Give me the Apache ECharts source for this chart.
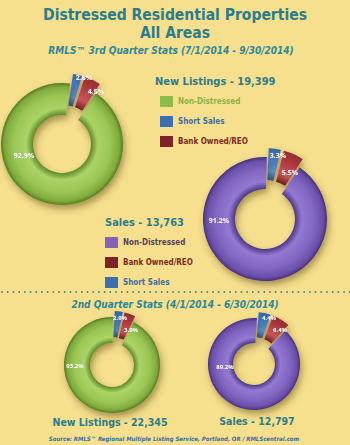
<!DOCTYPE html>
<html><head><meta charset="utf-8">
<script src="https://cdn.jsdelivr.net/npm/echarts@6/dist/echarts.min.js"></script>
<style>html,body{margin:0;padding:0;background:#f6e08e}#c{width:350px;height:445px}</style>
</head><body><div id="c"></div>
<script>
// ---- data ----
const sliceNames = ['Short Sales', 'Bank Owned/REO', 'Non-Distressed'];
const q3ListingsPct = [2.6, 4.5, 92.9];
const q3SalesPct = [3.3, 5.5, 91.2];
const q2ListingsPct = [2.9, 3.9, 93.2];
const q2SalesPct = [4.4, 6.4, 89.2];
const q3ListingsTotal = '19,399';
const q3SalesTotal = '13,763';
const q2ListingsTotal = '22,345';
const q2SalesTotal = '12,797';
const listingsLegendOrder = ['Non-Distressed', 'Short Sales', 'Bank Owned/REO'];
const salesLegendOrder = ['Non-Distressed', 'Bank Owned/REO', 'Short Sales'];
const mainTitle = 'Distressed Residential Properties';
const subTitle = 'All Areas';
const q3Title = 'RMLS\u2122 3rd Quarter Stats (7/1/2014 - 9/30/2014)';
const q2Title = '2nd Quarter Stats (4/1/2014 - 6/30/2014)';
const sourceText = 'Source: RMLS\u2122 Regional Multiple Listing Service, Portland, OR / RMLScentral.com';

// ---- styles ----
const TEAL = '#2b7c8c';
const NARROW = '"Liberation Sans Narrow","DejaVu Sans Condensed","Open Sans",sans-serif';
const palettes = {
  green: ['#5f8a2a', '#abd366', '#9ac755', '#80ab3c', '#557d22'],
  purple: ['#4e3784', '#9379d2', '#8266c2', '#6a4fa8', '#47307a'],
  blue: ['#2a5690', '#5b8fd0', '#3f74b8', '#30609e', '#254d84'],
  red: ['#6e1f24', '#c8555a', '#a8343c', '#8c2a30', '#651c20']
};
const legendColors = {
  listings: {'Non-Distressed': ['#8cbc4a', '#8ab445'], 'Short Sales': ['#3d6fb0', '#3f6ea5'], 'Bank Owned/REO': ['#7b2326', '#7a2a22']},
  sales: {'Non-Distressed': ['#8262bb', '#5a3f5a'], 'Short Sales': ['#3d6fb0', '#3f6ea5'], 'Bank Owned/REO': ['#7b2326', '#7a2a22']}
};

function grad(cx, cy, r0, r1, pal) {
  const f = r0 / r1;
  return {type: 'radial', x: cx, y: cy, r: r1, global: true, colorStops: [
    {offset: f, color: pal[0]},
    {offset: f + (1 - f) * 0.22, color: pal[1]},
    {offset: f + (1 - f) * 0.6, color: pal[2]},
    {offset: f + (1 - f) * 0.88, color: pal[3]},
    {offset: 1, color: pal[4]}
  ]};
}

// ring series (with exploded small slices) + a transparent twin that carries the labels
function pieSeries(values, geom, mainPal) {
  const [cx, cy, r0, r1, start, off, labelXY, fs] = geom;
  const pals = [palettes.blue, palettes.red, mainPal];
  const base = {
    type: 'pie', center: [cx, cy], radius: [r0, r1], startAngle: start, clockwise: true,
    avoidLabelOverlap: false, padAngle: 0.6, emphasis: {disabled: true}, silent: true,
    labelLine: {show: false}
  };
  const ring = Object.assign({}, base, {
    selectedMode: 'multiple', selectedOffset: off,
    itemStyle: {shadowBlur: 7, shadowOffsetX: 2, shadowOffsetY: 4, shadowColor: 'rgba(70,50,0,0.45)'},
    label: {show: false},
    data: values.map((v, i) => ({
      name: sliceNames[i], value: v, selected: i < 2,
      itemStyle: {color: grad(cx, cy, r0, i < 2 ? r1 + off : r1, pals[i])}
    }))
  });
  const labels = Object.assign({}, base, {
    selectedMode: false, z: 5,
    itemStyle: {color: 'rgba(0,0,0,0)'},
    label: {show: true, position: 'inside', color: '#ffffff', fontSize: fs, fontWeight: 'bold',
      fontFamily: '"Open Sans",sans-serif', textShadowColor: 'rgba(0,0,0,0.35)', textShadowBlur: 1,
      formatter: p => p.value.toFixed(1) + '%'},
    labelLayout: p => ({x: cx + labelXY[p.dataIndex][0], y: cy + labelXY[p.dataIndex][1], align: 'center', verticalAlign: 'middle'}),
    data: values.map((v, i) => ({name: sliceNames[i], value: v}))
  });
  return [ring, labels];
}

function legend(order, colors, left, top, gap) {
  return {
    orient: 'vertical', left: left, top: top, icon: 'rect', itemWidth: 13, itemHeight: 11,
    itemGap: gap, selectedMode: false,
    data: order.map(n => ({name: n, itemStyle: {color: colors[n][0]},
      textStyle: {color: colors[n][1], fontSize: 8, fontWeight: 'bold', fontFamily: NARROW}}))
  };
}

function txt(text, x, y, size, opts) {
  return {type: 'text', x: x, y: y, silent: true, style: Object.assign({
    text: text, fill: TEAL, fontSize: size, fontWeight: 'bold', fontFamily: NARROW,
    textAlign: 'center', textVerticalAlign: 'middle'}, opts || {})};
}

const chart = echarts.init(document.getElementById('c'), null, {renderer: 'svg'});
chart.setOption({
  backgroundColor: '#f6e08e',
  animation: false,
  legend: [
    legend(listingsLegendOrder, legendColors.listings, 155, 91, 9),
    legend(salesLegendOrder, legendColors.sales, 100, 232, 9)
  ],
  series: [].concat(
    pieSeries(q3ListingsPct, [62, 144, 29, 61, 82, 10, [[22, -67], [34, -53], [-38, 11]], 7], palettes.green),
    pieSeries(q3SalesPct, [265, 219, 30, 62, 88, 9, [[13, -64], [25, -47], [-46, 1]], 7], palettes.purple),
    pieSeries(q2ListingsPct, [112, 365, 22, 48, 88, 6, [[8, -47], [19, -35], [-37, 1]], 6], palettes.green),
    pieSeries(q2SalesPct, [254, 364, 21, 46, 86, 6, [[15, -46], [26, -34], [-29, 3]], 6], palettes.purple)
  ),
  graphic: [
    txt(mainTitle, 175, 15, 15.5),
    txt(subTitle, 175, 33, 15.5),
    txt(q3Title, 171, 50, 10, {fontStyle: 'italic', fill: '#2d8797'}),
    txt('New Listings - ' + q3ListingsTotal, 155, 81, 11, {textAlign: 'left'}),
    txt('Sales - ' + q3SalesTotal, 105, 222, 11, {textAlign: 'left'}),
    {type: 'line', silent: true, shape: {x1: 2, y1: 292, x2: 350, y2: 292},
      style: {stroke: '#3a8c9a', lineWidth: 1.8, lineDash: [0.1, 5.6], lineCap: 'round'}},
    txt(q2Title, 175, 304, 10, {fontStyle: 'italic', fill: '#2d8797'}),
    txt('New Listings - ' + q2ListingsTotal, 110, 422, 10.5),
    txt('Sales - ' + q2SalesTotal, 257, 421, 10.5),
    txt(sourceText, 174, 438, 6, {fontStyle: 'italic', fill: '#2e6fa5'})
  ]
});
</script></body></html>
